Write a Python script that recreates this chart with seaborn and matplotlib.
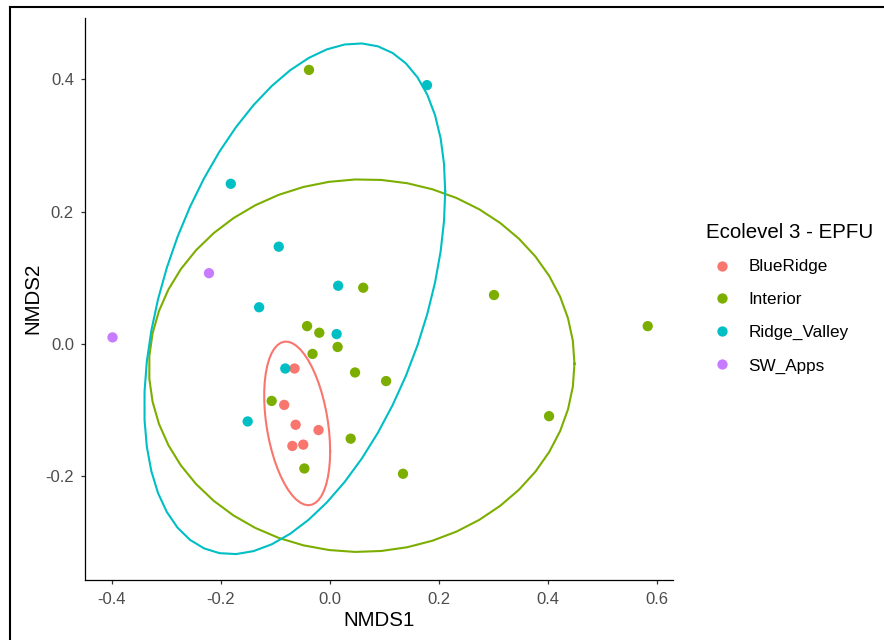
import numpy as np
import pandas as pd
import matplotlib
matplotlib.use("Agg")
import matplotlib.pyplot as plt
from matplotlib.lines import Line2D
import seaborn as sns

# NMDS site scores grouped by ecoregion
blueridge_x = [-0.065, -0.084, -0.063, -0.021, -0.069, -0.049]
blueridge_y = [-0.037, -0.092, -0.122, -0.130, -0.154, -0.152]

interior_x = [-0.0385, 0.061, 0.301, 0.583, -0.042, -0.0196, 0.014, -0.032,
              0.046, 0.103, -0.107, 0.038, -0.047, 0.134, 0.402]
interior_y = [0.414, 0.085, 0.074, 0.027, 0.027, 0.017, -0.0045, -0.015,
              -0.043, -0.056, -0.086, -0.143, -0.188, -0.196, -0.109]

ridge_valley_x = [0.178, -0.182, -0.094, 0.015, -0.130, 0.0122, -0.082, -0.151]
ridge_valley_y = [0.391, 0.242, 0.147, 0.088, 0.0555, 0.015, -0.037, -0.117]

sw_apps_x = [-0.222, -0.399]
sw_apps_y = [0.107, 0.010]

groups = ["BlueRidge", "Interior", "Ridge_Valley", "SW_Apps"]
palette = ["#F8766D", "#7CAE00", "#00BFC4", "#C77CFF"]
x_ticks = [-0.4, -0.2, 0.0, 0.2, 0.4, 0.6]
y_ticks = [-0.2, 0.0, 0.2, 0.4]

df = pd.concat([
    pd.DataFrame({"NMDS1": blueridge_x, "NMDS2": blueridge_y, "grp": groups[0]}),
    pd.DataFrame({"NMDS1": interior_x, "NMDS2": interior_y, "grp": groups[1]}),
    pd.DataFrame({"NMDS1": ridge_valley_x, "NMDS2": ridge_valley_y, "grp": groups[2]}),
    pd.DataFrame({"NMDS1": sw_apps_x, "NMDS2": sw_apps_y, "grp": groups[3]}),
], ignore_index=True)


def cov_trob(X, nu=5, maxit=25, tol=0.01):
    """Robust multivariate-t location/scatter (as in MASS::cov.trob)."""
    n, p = X.shape
    wt = np.ones(n)
    loc = X.mean(axis=0)
    w = np.sqrt(wt)
    Xc = X - loc
    for _ in range(maxit):
        w0 = w
        Xc = X - loc
        _, d, Vt = np.linalg.svd(np.sqrt(w / w.sum())[:, None] * Xc,
                                 full_matrices=False)
        wX = Xc @ Vt.T @ np.diag(1.0 / d)
        Q = (wX ** 2).sum(axis=1)
        w = wt * (nu + p) / (nu + Q)
        loc = (w[:, None] * X).sum(axis=0) / w.sum()
        if np.all(np.abs(w - w0) < tol):
            break
    sX = np.sqrt(w)[:, None] * Xc
    return sX.T @ sX / wt.sum(), loc


def t_ellipse(x, y, level=0.95, segments=51):
    X = np.column_stack([x, y])
    shape, center = cov_trob(X)
    dfd = len(x) - 1
    # F(2, dfd) quantile in closed form
    fq = dfd / 2.0 * ((1 - level) ** (-2.0 / dfd) - 1)
    radius = np.sqrt(2 * fq)
    ang = np.arange(segments + 1) * 2 * np.pi / segments
    circ = np.column_stack([np.cos(ang), np.sin(ang)])
    R = np.linalg.cholesky(shape).T
    e = center + radius * (circ @ R)
    return e[:, 0], e[:, 1]


plt.rcParams["font.family"] = ["Liberation Sans", "DejaVu Sans"]
fig = plt.figure(figsize=(8.84, 6.40), dpi=100)
ax = fig.add_axes([85 / 884, 1 - 579.5 / 640, (673 - 85) / 884, (579.5 - 18) / 640])

sns.scatterplot(data=df, x="NMDS1", y="NMDS2", hue="grp", hue_order=groups,
                palette=palette, s=55, linewidth=0, ax=ax, zorder=3)

for g, col in zip(groups, palette):
    sub = df[df["grp"] == g]
    if len(sub) >= 3:
        ex, ey = t_ellipse(sub["NMDS1"].to_numpy(), sub["NMDS2"].to_numpy())
        ax.plot(ex, ey, color=col, lw=1.5, zorder=2)

ax.set_xlim(-0.4495, 0.6294)
ax.set_ylim(-0.3557, 0.4924)
ax.set_xticks(x_ticks)
ax.set_xticklabels([f"{v:.1f}" for v in x_ticks])
ax.set_yticks(y_ticks)
ax.set_yticklabels([f"{v:.1f}" for v in y_ticks])
for s in ["top", "right"]:
    ax.spines[s].set_visible(False)
for s in ["left", "bottom"]:
    ax.spines[s].set_linewidth(0.9)
    ax.spines[s].set_color("black")
ax.tick_params(axis="both", length=3, width=0.9, color="#333333",
               labelsize=12, labelcolor="#4D4D4D")
ax.tick_params(axis="x", pad=6)
ax.tick_params(axis="y", pad=5)
ax.set_xlabel("NMDS1", fontsize=14.8, labelpad=3)
ax.set_ylabel("NMDS2", fontsize=14.8, labelpad=2)

handles, labels = ax.get_legend_handles_labels()
ax.legend(handles, labels, title="Ecolevel 3 - EPFU", loc="upper left",
          bbox_to_anchor=(697 / 884, 1 - 214 / 640), bbox_transform=fig.transFigure,
          frameon=False, fontsize=12.3, title_fontsize=14.8, alignment="left",
          borderpad=0, labelspacing=1.05, handlelength=1.9, handletextpad=0.6,
          markerscale=1.0)

# outer frame lines
fig.add_artist(Line2D([10 / 884, 10 / 884], [0, 1 - 7 / 640], color="black", lw=1.5,
                      transform=fig.transFigure))
fig.add_artist(Line2D([10 / 884, 1], [1 - 7 / 640, 1 - 7 / 640], color="black", lw=1.5,
                      transform=fig.transFigure))

fig.savefig("out.png", dpi=100, facecolor="white")
